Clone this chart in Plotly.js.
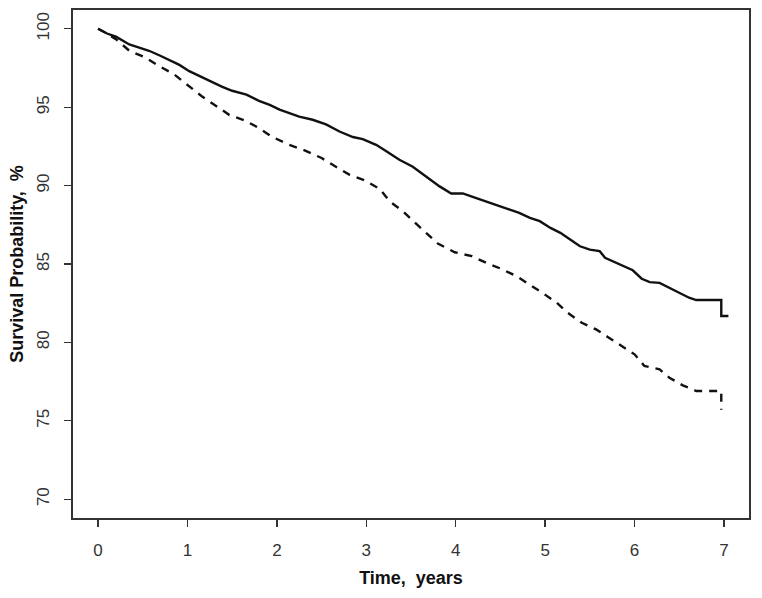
<!DOCTYPE html>
<html>
<head>
<meta charset="utf-8">
<script src="https://cdn.plot.ly/plotly-3.0.1.min.js"></script>
<style>
  html, body { margin: 0; padding: 0; background: #fff; }
  #chart { width: 762px; height: 598px; }
</style>
</head>
<body>
<div id="chart"></div>
<script>
// solid curve (upper group)
const timeSolid = [0, 0.1, 0.2, 0.35, 0.46, 0.57, 0.69, 0.8, 0.91, 1.02, 1.13, 1.25, 1.39, 1.5, 1.66, 1.8,
  1.92, 2.03, 2.25, 2.4, 2.55, 2.7, 2.85, 2.96, 3.11, 3.22, 3.37, 3.52, 3.67, 3.82, 3.95, 4.08, 4.19,
  4.34, 4.46, 4.61, 4.71, 4.83, 4.94, 5.06, 5.17, 5.28, 5.39, 5.5, 5.61, 5.67, 5.76, 5.87, 5.98, 6.08,
  6.17, 6.28, 6.39, 6.5, 6.61, 6.69, 6.97, 6.97, 7.05];
const survSolid = [100, 99.7, 99.5, 99.0, 98.8, 98.6, 98.3, 98.0, 97.7, 97.3, 97.0, 96.7, 96.3, 96.05, 95.8, 95.4,
  95.15, 94.85, 94.4, 94.2, 93.9, 93.45, 93.1, 92.97, 92.6, 92.2, 91.65, 91.2, 90.6, 89.95, 89.5, 89.5, 89.28,
  89.0, 88.73, 88.47, 88.26, 87.94, 87.73, 87.3, 86.99, 86.56, 86.13, 85.92, 85.82, 85.4, 85.18, 84.9, 84.6, 84.06,
  83.84, 83.8, 83.48, 83.12, 82.85, 82.7, 82.7, 81.68, 81.68];

// dashed curve (lower group)
const timeDash = [0, 0.1, 0.2, 0.35, 0.52, 0.69, 0.85, 1.0, 1.16, 1.3, 1.47, 1.64, 1.8, 1.95, 2.14, 2.31,
  2.5, 2.66, 2.81, 2.98, 3.15, 3.26, 3.41, 3.54, 3.67, 3.8, 3.99, 4.18, 4.34, 4.51, 4.68, 4.83, 4.97,
  5.13, 5.25, 5.41, 5.57, 5.7, 5.86, 6.0, 6.11, 6.28, 6.39, 6.54, 6.69, 6.97, 6.97];
const survDash = [100, 99.7, 99.34, 98.6, 98.2, 97.6, 97.1, 96.4, 95.7, 95.16, 94.5, 94.16, 93.67, 93.1, 92.6, 92.25,
  91.76, 91.2, 90.7, 90.34, 89.79, 89.0, 88.36, 87.66, 86.99, 86.3, 85.75, 85.5, 85.08, 84.69, 84.22, 83.7, 83.16,
  82.53, 81.9, 81.25, 80.83, 80.35, 79.76, 79.24, 78.5, 78.28, 77.75, 77.26, 76.9, 76.9, 75.7];

const xTicks = [0, 1, 2, 3, 4, 5, 6, 7];
const yTicks = [70, 75, 80, 85, 90, 95, 100];

const solidTrace = {
  x: timeSolid,
  y: survSolid,
  type: 'scatter',
  mode: 'lines',
  line: { color: '#111', width: 2.4 },
  hoverinfo: 'skip'
};
const dashTrace = {
  x: timeDash,
  y: survDash,
  type: 'scatter',
  mode: 'lines',
  line: { color: '#111', width: 2.4, dash: '8px,7px' },
  hoverinfo: 'skip'
};

const tickFont = { family: 'Liberation Sans, Arial, sans-serif', size: 17, color: '#333' };
const titleFont = { family: 'Liberation Sans, Arial, sans-serif', size: 18, color: '#111', weight: 'bold' };

const layout = {
  width: 762,
  height: 598,
  margin: { l: 73, r: 13, t: 10, b: 80 },
  paper_bgcolor: '#fff',
  plot_bgcolor: '#fff',
  showlegend: false,
  xaxis: {
    range: [-0.28, 7.28],
    tickvals: xTicks,
    ticktext: xTicks.map(String),
    ticks: 'outside',
    ticklen: 7,
    tickwidth: 1.3,
    tickcolor: '#333',
    ticklabelstandoff: 9,
    tickfont: tickFont,
    showgrid: false,
    zeroline: false,
    showline: true,
    mirror: true,
    linecolor: '#333',
    linewidth: 1.6,
    title: { text: 'Time,\u00a0 years', font: titleFont, standoff: 12 }
  },
  yaxis: {
    range: [68.8, 101.2],
    tickvals: yTicks,
    ticktext: yTicks.map(String),
    tickangle: -90,
    ticks: 'outside',
    ticklen: 7,
    tickwidth: 1.3,
    tickcolor: '#333',
    ticklabelstandoff: 9,
    tickfont: tickFont,
    showgrid: false,
    zeroline: false,
    showline: true,
    mirror: true,
    linecolor: '#333',
    linewidth: 1.6,
    title: { text: 'Survival Probability,\u00a0 %', font: titleFont, standoff: 5 }
  }
};

Plotly.newPlot('chart', [solidTrace, dashTrace], layout, { displayModeBar: false, staticPlot: true });
</script>
</body>
</html>
